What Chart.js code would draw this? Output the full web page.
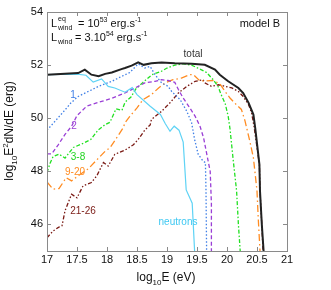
<!DOCTYPE html>
<html>
<head>
<meta charset="utf-8">
<script src="https://cdn.jsdelivr.net/npm/chart.js@4/dist/chart.umd.min.js"></script>
<style>
  html, body { margin: 0; padding: 0; background: #fff; }
</style>
</head>
<body>
<canvas id="c" width="331" height="290"></canvas>
<script>
// log10 E (eV) and log10 E^2 dN/dE (erg)
const totalE = [17.0, 17.52, 17.63, 17.74, 17.86, 17.97, 18.08, 18.24, 18.3, 18.41, 18.52, 18.61, 18.74, 18.91, 19.13, 19.41, 19.63, 19.8, 19.88, 20.02, 20.19, 20.27, 20.36, 20.44, 20.47, 20.54, 20.55, 20.58, 20.61];
const totalV = [51.64, 51.7, 51.83, 51.64, 51.58, 51.67, 51.72, 51.85, 51.89, 51.98, 52.1, 52.01, 52.07, 52.1, 52.07, 52.05, 52.01, 51.83, 51.64, 51.39, 51.14, 50.95, 50.58, 50.14, 49.64, 48.26, 47.26, 46.01, 45.0];

const neutronE = [17.0, 17.5, 17.65, 17.77, 17.91, 18.02, 18.13, 18.3, 18.42, 18.5, 18.72, 18.89, 18.97, 19.05, 19.12, 19.2, 19.27, 19.32, 19.42, 19.46];
const neutronV = [51.64, 51.66, 51.62, 51.36, 51.48, 51.2, 51.14, 50.98, 51.15, 50.89, 50.45, 50.14, 49.8, 49.51, 49.7, 49.55, 49.1, 47.3, 46.8, 45.0];

const g1E = [17.0, 17.1, 17.28, 17.4, 17.52, 17.69, 17.86, 18.08, 18.24, 18.38, 18.52, 18.63, 18.72, 18.8, 18.91, 19.02, 19.08, 19.22, 19.33, 19.41, 19.46, 19.52, 19.6, 19.64, 19.65, 19.66];
const g1V = [49.55, 49.8, 50.26, 50.58, 50.82, 51.01, 51.2, 51.39, 51.57, 51.72, 52.05, 51.89, 51.95, 51.64, 51.33, 51.2, 51.0, 50.7, 50.26, 49.83, 49.2, 48.64, 48.39, 48.33, 47.26, 45.0];

const g2E = [17.0, 17.08, 17.19, 17.3, 17.41, 17.5, 17.66, 17.86, 18.08, 18.3, 18.52, 18.63, 18.8, 18.91, 19.02, 19.13, 19.19, 19.27, 19.38, 19.47, 19.55, 19.61, 19.68, 19.72, 19.74, 19.74];
const g2V = [48.66, 48.66, 49.01, 49.39, 49.7, 50.1, 50.45, 50.6, 50.75, 50.95, 51.2, 51.33, 51.39, 51.45, 51.42, 51.35, 51.08, 50.76, 50.39, 50.07, 49.7, 49.26, 48.45, 48.0, 46.8, 45.0];

const g3E = [17.0, 17.05, 17.1, 17.2, 17.3, 17.44, 17.6, 17.73, 17.85, 17.97, 18.05, 18.15, 18.25, 18.3, 18.4, 18.48, 18.6, 18.75, 18.9, 19.0, 19.13, 19.27, 19.41, 19.55, 19.66, 19.77, 19.85, 19.9, 19.97, 20.02, 20.05, 20.1, 20.16, 20.19, 20.22];
const g3V = [47.95, 48.3, 48.55, 48.65, 48.5, 48.9, 49.05, 49.2, 49.55, 49.76, 49.85, 50.35, 50.3, 50.6, 50.8, 51.1, 51.35, 51.64, 51.76, 51.89, 52.0, 52.05, 52.0, 51.85, 51.72, 51.45, 51.2, 50.9, 50.55, 50.07, 49.6, 48.5, 47.26, 46.0, 45.0];

const g4E = [17.0, 17.1, 17.2, 17.32, 17.41, 17.52, 17.69, 17.86, 17.97, 18.05, 18.16, 18.27, 18.3, 18.38, 18.5, 18.6, 18.74, 18.86, 18.97, 19.1, 19.24, 19.38, 19.44, 19.55, 19.77, 19.88, 19.97, 20.05, 20.16, 20.24, 20.3, 20.38, 20.44, 20.47, 20.5, 20.52, 20.55];
const g4V = [47.6, 47.33, 47.35, 47.76, 47.64, 47.83, 48.1, 48.5, 48.76, 48.89, 49.26, 49.64, 49.83, 50.07, 50.39, 50.7, 50.89, 51.14, 51.33, 51.45, 51.51, 51.64, 51.64, 51.4, 51.42, 51.3, 51.0, 50.76, 50.5, 50.33, 49.9, 49.14, 48.51, 47.89, 47.26, 46.26, 45.0];

const g5E = [17.0, 17.1, 17.19, 17.25, 17.3, 17.41, 17.5, 17.6, 17.74, 17.83, 17.94, 18.02, 18.13, 18.3, 18.44, 18.52, 18.63, 18.72, 18.74, 18.91, 19.05, 19.19, 19.33, 19.47, 19.6, 19.63, 19.74, 19.86, 19.97, 20.08, 20.19, 20.27, 20.36, 20.41, 20.45, 20.54, 20.55, 20.58, 20.6];
const g5V = [45.5, 45.75, 45.89, 45.95, 46.51, 47.14, 47.0, 47.45, 47.58, 47.83, 48.33, 48.2, 48.64, 48.8, 49.0, 49.2, 49.55, 49.75, 49.95, 50.26, 50.58, 50.95, 51.2, 51.39, 51.45, 51.33, 51.2, 51.26, 51.2, 51.14, 51.01, 50.82, 50.51, 50.2, 49.7, 48.26, 47.26, 46.0, 45.0];

const xTicks = [17, 17.5, 18, 18.5, 19, 19.5, 20, 20.5, 21];
const yTicks = [46, 48, 50, 52, 54];

function pts(es, vs) {
  return es.map((e, i) => ({ x: e, y: vs[i] }));
}

function line(data, color, dash, width) {
  return {
    data: data,
    borderColor: color,
    borderWidth: width,
    borderDash: dash,
    pointRadius: 0,
    showLine: true,
    fill: false,
    tension: 0,
  };
}

const FONT = '"Liberation Sans", Arial, sans-serif';

// draw a run of text pieces; each piece: [text, size, dy]
function drawRuns(ctx, runs, x, y, align) {
  let w = 0;
  for (const r of runs) {
    ctx.font = r[1] + 'px ' + FONT;
    r.w = ctx.measureText(r[0]).width;
    w += r.w;
  }
  let cx = align === 'center' ? x - w / 2 : (align === 'right' ? x - w : x);
  ctx.textAlign = 'left';
  ctx.textBaseline = 'alphabetic';
  for (const r of runs) {
    ctx.font = r[1] + 'px ' + FONT;
    ctx.fillText(r[0], cx, y + r[2]);
    cx += r.w;
  }
}

const framePlugin = {
  id: 'frame',
  afterDraw(chart) {
    const ctx = chart.ctx;
    const a = chart.chartArea;
    const xs = chart.scales.x, ys = chart.scales.y;
    ctx.save();
    ctx.strokeStyle = '#8a8a8a';
    ctx.lineWidth = 1;
    ctx.strokeRect(Math.round(a.left) + 0.5, Math.round(a.top) + 0.5,
      Math.round(a.right - a.left), Math.round(a.bottom - a.top));
    ctx.beginPath();
    for (const t of xTicks) {
      const px = Math.round(xs.getPixelForValue(t)) + 0.5;
      ctx.moveTo(px, a.bottom); ctx.lineTo(px, a.bottom - 4);
      ctx.moveTo(px, a.top); ctx.lineTo(px, a.top + 4);
    }
    for (const t of yTicks) {
      const py = Math.round(ys.getPixelForValue(t)) + 0.5;
      ctx.moveTo(a.left, py); ctx.lineTo(a.left + 4, py);
      ctx.moveTo(a.right, py); ctx.lineTo(a.right - 4, py);
    }
    ctx.stroke();

    ctx.fillStyle = '#111';
    // x title
    drawRuns(ctx, [['log', 12, 0], ['10', 8, 4], ['E (eV)', 12, 0]], 166, 281, 'center');
    // y title
    ctx.save();
    ctx.translate(13, 131);
    ctx.rotate(-Math.PI / 2);
    drawRuns(ctx, [['log', 12, 0], ['10', 8, 4], ['E', 12, 0], ['2', 8, -5], ['dN/dE (erg)', 12, 0]], 0, 0, 'center');
    ctx.restore();

    // annotation
    ctx.font = '11px ' + FONT;
    ctx.fillText('L', 51, 27);
    ctx.font = '7px ' + FONT;
    ctx.fillText('eq', 58, 21);
    ctx.fillText('wind', 58, 30);
    drawRuns(ctx, [['= 10', 11, 0], ['53', 7, -5], [' erg.s', 11, 0], ['-1', 7, -5]], 78, 27, 'left');
    ctx.font = '11px ' + FONT;
    ctx.fillText('L', 51, 41);
    ctx.font = '7px ' + FONT;
    ctx.fillText('wind', 58, 44);
    drawRuns(ctx, [['= 3.10', 11, 0], ['54', 7, -5], [' erg.s', 11, 0], ['-1', 7, -5]], 75, 41, 'left');

    drawRuns(ctx, [['model B', 11, 0]], 280, 27, 'right');

    // curve labels
    const labels = [
      ['total', '#333', 193, 57],
      ['1', '#3f7fe6', 73, 98],
      ['2', '#9a3fd6', 74, 129],
      ['3-8', '#22d422', 78, 160],
      ['9-20', '#ff8c22', 75, 175],
      ['21-26', '#7a1a14', 83, 214],
      ['neutrons', '#3ec8f2', 178, 225],
    ];
    for (const l of labels) {
      ctx.fillStyle = l[1];
      drawRuns(ctx, [[l[0], 10, 0]], l[2], l[3], 'center');
    }
    ctx.restore();
  }
};

new Chart(document.getElementById('c').getContext('2d'), {
  type: 'scatter',
  data: {
    datasets: [
      line(pts(totalE, totalV), '#222222', [], 2),
      line(pts(neutronE, neutronV), '#5fd3f5', [], 1.2),
      line(pts(g1E, g1V), '#3f7fe6', [1.5, 2], 1.3),
      line(pts(g2E, g2V), '#9a3fd6', [4, 2.5], 1.3),
      line(pts(g3E, g3V), '#22e022', [4, 2, 1.5, 2], 1.3),
      line(pts(g4E, g4V), '#ff8c22', [7, 3, 1.5, 3], 1.3),
      line(pts(g5E, g5V), '#7a1a14', [4, 2, 1.5, 2, 1.5, 2], 1.3),
    ],
  },
  options: {
    responsive: false,
    animation: false,
    events: [],
    layout: { padding: { top: 12, right: 44, left: 0, bottom: 0 } },
    plugins: { legend: { display: false }, tooltip: { enabled: false } },
    scales: {
      x: {
        type: 'linear',
        min: 17,
        max: 21,
        grid: { display: false, drawTicks: false },
        border: { display: false },
        afterBuildTicks: (s) => { s.ticks = xTicks.map(v => ({ value: v })); },
        afterFit: (s) => { s.height = 39; },
        ticks: {
          color: '#111',
          font: { family: FONT, size: 11 },
          padding: 2,
          maxRotation: 0,
          autoSkip: false,
          callback: (v) => String(v),
        },
      },
      y: {
        type: 'linear',
        min: 45,
        max: 54,
        grid: { display: false, drawTicks: false },
        border: { display: false },
        afterBuildTicks: (s) => { s.ticks = yTicks.map(v => ({ value: v })); },
        afterFit: (s) => { s.width = 47; },
        ticks: {
          color: '#111',
          font: { family: FONT, size: 11 },
          padding: 4,
          autoSkip: false,
          callback: (v) => String(v),
        },
      },
    },
  },
  plugins: [framePlugin],
});
</script>
</body>
</html>
